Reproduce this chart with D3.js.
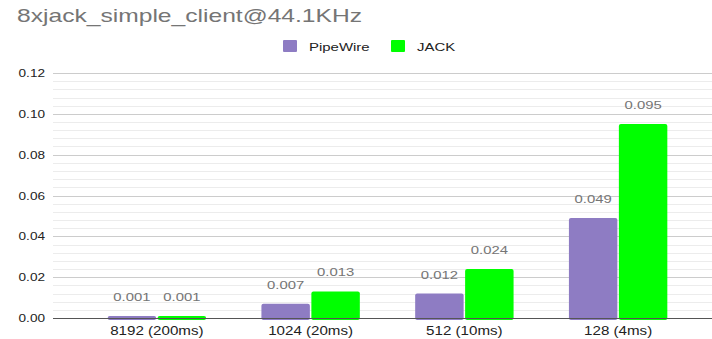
<!DOCTYPE html>
<html><head><meta charset="utf-8">
<script src="https://cdn.jsdelivr.net/npm/d3@7"></script>
<style>body{margin:0;background:#fff}svg{display:block}text{font-family:"Liberation Sans",Arial,sans-serif}</style>
</head><body><svg id="c" width="712" height="339"></svg>
<script>
const title = "8xjack_simple_client@44.1KHz";
const categories = ["8192 (200ms)", "1024 (20ms)", "512 (10ms)", "128 (4ms)"];
const seriesNames = ["PipeWire", "JACK"];
const pipewire = [0.001, 0.007, 0.012, 0.049];
const jack = [0.001, 0.013, 0.024, 0.095];
const yTicks = [0, 0.02, 0.04, 0.06, 0.08, 0.10, 0.12];
const colors = ["#8e7cc3", "#00ff00"];

const svg = d3.select("#c");
function stretch(sel, f){ sel.each(function(){ const l=this.getComputedTextLength(); d3.select(this).attr("textLength", l*f).attr("lengthAdjust","spacingAndGlyphs"); }); }

const y = d3.scaleLinear().domain([0, 0.12]).range([318, 73]);
const x0 = d3.scaleBand().domain(categories).range([80, 695]).paddingInner(0.36).paddingOuter(0.18);
const x1 = d3.scaleBand().domain(seriesNames).range([0, x0.bandwidth()]).paddingInner(0.03);
const gridX0 = 53, gridX1 = 712;

// minor gridlines
const minor = d3.range(0, 0.1201, 0.004).filter(v => Math.abs(Math.round(v/0.02)*0.02 - v) > 1e-6);
svg.append("g").selectAll("line").data(minor).join("line")
  .attr("x1", gridX0).attr("x2", gridX1).attr("y1", d => Math.round(y(d))+0.5).attr("y2", d => Math.round(y(d))+0.5)
  .attr("stroke", "#ececec").attr("stroke-width", 1);
// major gridlines
svg.append("g").selectAll("line").data(yTicks.filter(d=>d>0)).join("line")
  .attr("x1", gridX0).attr("x2", gridX1).attr("y1", d => Math.round(y(d))+0.5).attr("y2", d => Math.round(y(d))+0.5)
  .attr("stroke", "#cccccc").attr("stroke-width", 1);

// y tick labels
const yl = svg.append("g").selectAll("text").data(yTicks).join("text")
  .attr("x", 45).attr("y", d => y(d) + 4).attr("text-anchor", "end")
  .attr("font-size", 11.6).attr("fill", "#222").text(d => d.toFixed(2));
stretch(yl, 1.17);

// bars
const data = categories.map((c, i) => ({cat: c, vals: [pipewire[i], jack[i]]}));
const groups = svg.append("g").selectAll("g").data(data).join("g")
  .attr("transform", d => `translate(${x0(d.cat)},0)`);
groups.selectAll("rect").data(d => d.vals.map((v, j) => ({v, s: seriesNames[j], j}))).join("rect")
  .attr("x", d => x1(d.s)).attr("width", x1.bandwidth())
  .attr("y", d => y(d.v)).attr("height", d => y(0) - y(d.v) + 2)
  .attr("rx", 2).attr("fill", d => colors[d.j]);

// baseline
svg.append("line").attr("x1", gridX0).attr("x2", gridX1).attr("y1", y(0)+0.5).attr("y2", y(0)+0.5)
  .attr("stroke", "#555").attr("stroke-width", 1.2);

// value labels
const vl = groups.selectAll("text.v").data(d => d.vals.map((v, j) => ({v, s: seriesNames[j], j}))).join("text")
  .attr("class", "v").attr("x", d => x1(d.s) + x1.bandwidth()/2).attr("y", d => y(d.v) - 15)
  .attr("text-anchor", "middle").attr("font-size", 11.6).attr("fill", "#757575")
  .text(d => d.v.toFixed(3));
stretch(vl, 1.28);

// category labels
const cl = svg.append("g").selectAll("text").data(categories).join("text")
  .attr("x", d => x0(d) + x0.bandwidth()/2).attr("y", 335).attr("text-anchor", "middle")
  .attr("font-size", 12.3).attr("fill", "#222").text(d => d);
stretch(cl, 1.23);

// title
const t = svg.append("text").attr("x", 17).attr("y", 22).attr("font-size", 18.5).attr("fill", "#757575").text(title);
stretch(t, 1.33);

// legend
const legX = [283, 391];
const lg = svg.append("g").selectAll("g").data(seriesNames).join("g")
  .attr("transform", (d, i) => `translate(${legX[i]},40)`);
lg.append("rect").attr("width", 14).attr("height", 12).attr("rx", 1).attr("fill", (d, i) => colors[i]);
const lt = lg.append("text").attr("x", 26).attr("y", 10.5).attr("font-size", 11.6).attr("fill", "#222").text(d => d);
stretch(lt, 1.29);
</script></body></html>
